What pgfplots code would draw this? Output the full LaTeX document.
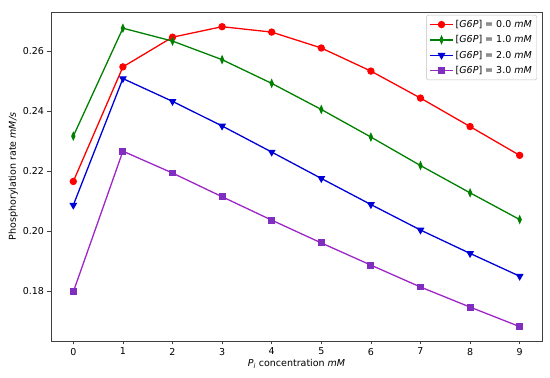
\documentclass[border=0pt]{standalone}
\usepackage{pgfplots}
\pgfplotsset{compat=1.18}
\usepackage{fontspec}
\setmainfont{DejaVu Sans}
\definecolor{mred}{rgb}{1,0,0}
\definecolor{mgreen}{rgb}{0,0.5,0}
\definecolor{mblue}{rgb}{0,0,0.85}
\definecolor{mpurple}{rgb}{0.62,0.15,0.78}
\definecolor{mpurplem}{rgb}{0.5,0.18,0.75}
\begin{document}
\begin{tikzpicture}
\useasboundingbox (-51pt,-37pt) rectangle (499pt,341pt);
\begin{axis}[
  scale only axis,
  width=491pt, height=329pt,
  xmin=-0.45, xmax=9.45,
  ymin=0.1633, ymax=0.2730,
  xtick={0,...,9},
  ytick={0.18,0.20,0.22,0.24,0.26},
  yticklabel style={/pgf/number format/.cd,fixed,fixed zerofill,precision=2},
  /pgf/number format/assume math mode=true,
  tick align=outside,
  tick pos=left,
  major tick length=3.5pt,
  every tick/.style={black!75, line width=0.6pt},
  axis line style={black!75, line width=0.7pt},
  font=\fontsize{9.5}{11}\selectfont,
  ticklabel style={font=\fontsize{9.5}{11}\selectfont},
  xlabel={\textit{P}\textsubscript{\textit{i}} concentration \textit{mM}},
  ylabel={Phosphorylation rate \textit{mM/s}},
  xlabel style={yshift=3pt},
  ylabel style={yshift=-2pt},
  legend cell align=left,
  legend style={at={([xshift=-5pt,yshift=-3pt]rel axis cs:1,1)}, anchor=north east, draw=black!25, rounded corners=2pt,
     font=\fontsize{9.5}{11}\selectfont, row sep=2.6pt, inner sep=3pt},
  legend image code/.code={\draw[mark repeat=2,mark phase=2,#1] plot coordinates {(0pt,0pt)(11.5pt,0pt)(23pt,0pt)};},
]
\addplot[mred, line width=1.3pt, mark=*, mark size=3pt] coordinates {
(0,0.2165) (1,0.2547) (2,0.2646) (3,0.2681) (4,0.2663) (5,0.2610) (6,0.2533) (7,0.2443) (8,0.2348) (9,0.2252)};
\addlegendentry{[\textit{G6P}] = 0.0 \textit{mM}}
\addplot[mgreen, line width=1.3pt, mark=diamond*, mark size=3.3pt, mark options={xscale=0.6}] coordinates {
(0,0.2316) (1,0.2676) (2,0.2633) (3,0.2571) (4,0.2492) (5,0.2405) (6,0.2313) (7,0.2218) (8,0.2127) (9,0.2038)};
\addlegendentry{[\textit{G6P}] = 1.0 \textit{mM}}
\addplot[mblue, line width=1.3pt, mark=triangle*, mark size=3.3pt, mark options={rotate=180}] coordinates {
(0,0.2086) (1,0.2508) (2,0.2432) (3,0.2350) (4,0.2263) (5,0.2175) (6,0.2088) (7,0.2003) (8,0.1925) (9,0.1849)};
\addlegendentry{[\textit{G6P}] = 2.0 \textit{mM}}
\addplot[mpurple, line width=1.3pt, mark=square*, mark size=2.8pt, mark options={fill=mpurplem, draw=mpurplem}] coordinates {
(0,0.1797) (1,0.2266) (2,0.2193) (3,0.2114) (4,0.2036) (5,0.1960) (6,0.1886) (7,0.1813) (8,0.1746) (9,0.1681)};
\addlegendentry{[\textit{G6P}] = 3.0 \textit{mM}}
\end{axis}
\end{tikzpicture}
\end{document}
